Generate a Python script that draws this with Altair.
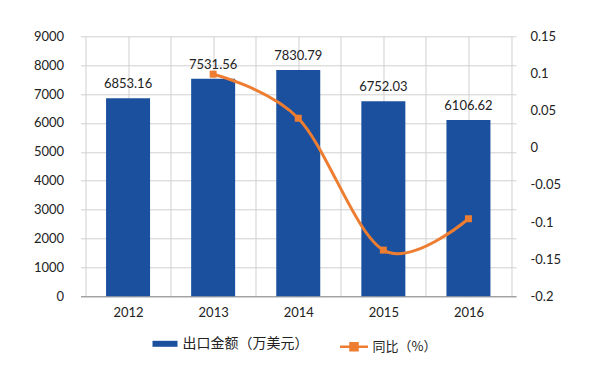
import altair as alt
import pandas as pd

years = [2012, 2013, 2014, 2015, 2016]
export_value = [6853.16, 7531.56, 7830.79, 6752.03, 6106.62]
yoy_years = [2013, 2014, 2015, 2016]
yoy = [0.099, 0.0397, -0.1378, -0.0956]
left_ticks = [0, 1000, 2000, 3000, 4000, 5000, 6000, 7000, 8000, 9000]
right_ticks = [0.15, 0.1, 0.05, 0, -0.05, -0.1, -0.15, -0.2]
x_ticks = [2011.5, 2012, 2012.5, 2013, 2013.5, 2014, 2014.5, 2015, 2015.5, 2016, 2016.5]
bar_name = "出口金额（万美元）"
line_name = "同比（%）"

BLUE = "#1B509E"
ORANGE = "#ED7D31"
GRID = "#D0D0D0"
TEXT = "#222222"
NUM_FONT = "Lato"
CJK_FONT = "Noto Sans CJK SC"

bars_df = pd.DataFrame({"year": years, "value": export_value, "series": bar_name})
line_df = pd.DataFrame({"year": yoy_years, "yoy": yoy, "series": line_name})

x_enc = alt.X(
    "year:Q",
    title=None,
    scale=alt.Scale(domain=[2011.5, 2016.5], nice=False, zero=False),
    axis=alt.Axis(
        values=x_ticks,
        grid=True,
        gridColor=GRID,
        ticks=False,
        domainColor="#8A8A8A",
        labelExpr="datum.value % 1 == 0 ? toString(datum.value) : ''",
        labelPadding=10,
        labelFont=NUM_FONT,
        labelFontSize=13,
        labelColor=TEXT,
    ),
)

y_left = alt.Y(
    "value:Q",
    title=None,
    scale=alt.Scale(domain=[0, 9000], nice=False),
    axis=alt.Axis(
        orient="left",
        values=left_ticks,
        grid=True,
        gridColor=GRID,
        domain=False,
        ticks=False,
        labelPadding=17,
        labelExpr="toString(datum.value)",
        labelFont=NUM_FONT,
        labelFontSize=13,
        labelColor=TEXT,
    ),
)

y_right = alt.Y(
    "yoy:Q",
    title=None,
    scale=alt.Scale(domain=[-0.2, 0.15], nice=False, zero=False),
    axis=alt.Axis(
        orient="right",
        values=right_ticks,
        grid=False,
        domain=False,
        ticks=False,
        labelPadding=14,
        labelExpr="toString(datum.value)",
        labelFont=NUM_FONT,
        labelFontSize=13,
        labelColor=TEXT,
    ),
)

bars = alt.Chart(bars_df).mark_bar(size=44).encode(
    x=x_enc,
    y=y_left,
    fill=alt.Fill(
        "series:N",
        scale=alt.Scale(domain=[bar_name], range=[BLUE]),
        legend=alt.Legend(
            orient="none",
            legendX=72,
            legendY=295,
            title=None,
            symbolType="M-1,-0.24H1V0.24H-1Z",
            symbolSize=625,
            symbolStrokeWidth=0,
            labelFont=CJK_FONT,
            labelFontSize=14,
            labelColor=TEXT,
            labelOffset=5,
            padding=0,
        ),
    ),
)

labels = alt.Chart(bars_df).mark_text(
    baseline="alphabetic", dy=-10, font=NUM_FONT, fontSize=13, color=TEXT
).encode(
    x=x_enc,
    y=y_left,
    text=alt.Text("value:Q", format=".2f"),
)

line = alt.Chart(line_df).mark_line(interpolate="cardinal", tension=0, strokeWidth=3).encode(
    x=x_enc,
    y=y_right,
    stroke=alt.Stroke(
        "series:N",
        scale=alt.Scale(domain=[line_name], range=[ORANGE]),
        legend=alt.Legend(
            orient="none",
            legendX=258,
            legendY=295,
            title=None,
            symbolType="M-1,0H1M-0.25,-0.25H0.25V0.25H-0.25Z",
            symbolSize=784,
            symbolFillColor=ORANGE,
            symbolStrokeWidth=2.5,
            labelFont=CJK_FONT,
            labelFontSize=13,
            labelColor=TEXT,
            labelOffset=3,
            padding=0,
        ),
    ),
)

points = alt.Chart(line_df).mark_point(
    shape="square", filled=True, size=49, color=ORANGE, opacity=1
).encode(x=x_enc, y=y_right)

left_layer = alt.layer(bars, labels)
right_layer = alt.layer(line, points)

chart = (
    alt.layer(left_layer, right_layer)
    .resolve_scale(y="independent")
    .properties(
        width=435.5,
        height=260,
        autosize=alt.AutoSizeParams(type="none"),
        padding={"left": 72.5, "top": 28.3, "right": 76, "bottom": 64},
        background="white",
    )
    .configure_view(stroke=None)
)

chart.save("out.html", embed_options={"renderer": "svg", "actions": False})
